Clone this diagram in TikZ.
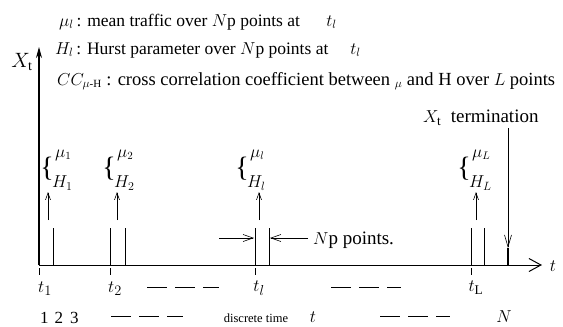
\documentclass[tikz,border=0pt]{standalone}
\usepackage{fontspec}
\setmainfont{Liberation Serif}
\usetikzlibrary{arrows.meta}
\begin{document}
\begin{tikzpicture}[x=1pt,y=-1pt,
  txt/.style={inner sep=0pt, anchor=west, font=\fontsize{17.5}{20}\selectfont},
  lbl/.style={inner sep=0pt, font=\fontsize{19}{22}\selectfont},
  sml/.style={inner sep=0pt, font=\fontsize{12.5}{14}\selectfont},
  brc/.style={inner sep=0pt, font=\fontsize{28}{30}\selectfont},
  grp/.style={inner sep=0pt, anchor=west, font=\fontsize{18}{20}\selectfont},
  bar/.style={line width=1pt},
  tick/.style={line width=0.6pt},
  uparr/.style={line width=0.6pt, -{Straight Barb[length=7pt,width=5pt]}},
  nparr/.style={line width=0.6pt, -{Straight Barb[length=10pt,width=7pt]}},
  dsh/.style={line width=0.6pt, dash pattern=on 20pt off 8pt}]
\useasboundingbox (0,0) rectangle (563,327);
% axes
\coordinate (O) at (39,265);
\coordinate (Ytop) at (39,47);
\coordinate (Xend) at (542,265);
\draw[line width=1.3pt, -{Stealth[length=11pt,width=6pt]}] (O) -- (Ytop);
\draw[line width=1pt, -{Straight Barb[length=12pt,width=13pt]}] (O) -- (Xend);
\node[lbl, font=\fontsize{20}{22}\selectfont] (xt) at (22,62) {$X_{\mathrm{t}}$};
\node[lbl] (tax) at (553,266) {$t$};
% header
\node[txt] (h1) at (59,22) {$\mu_l$\,: mean traffic over $N$p points at \quad\ $t_l$};
\node[txt] (h2) at (55,50) {$H_l$\,: Hurst parameter over $N$p points at \quad $t_l$};
\node[txt, font=\fontsize{18.5}{20}\selectfont] (h3) at (57,81) {$CC_{\mu\mbox{\fontsize{11}{12}\selectfont -H}}$ : cross correlation coefficient between $_\mu$ and H over $L$ points};
% termination
\node[txt, font=\fontsize{19}{22}\selectfont] (term) at (423,118) {$X_{\mathrm{t}}$\ \ termination};
\coordinate (ttop) at (508,128);
\coordinate (tbot) at (508,248);
\coordinate (tax0) at (508,265);
\draw[line width=0.6pt, -{Straight Barb[length=12pt,width=7pt]}] (ttop) -- (tbot);
\draw[line width=2.2pt] (tbot) -- (tax0);
% bars
\foreach \x [count=\i] in {53,110,125,255,269,471,484} {
  \coordinate (bt\i) at (\x,228);
  \coordinate (bb\i) at (\x,265);
  \draw[bar] (bb\i) -- (bt\i);
}
% ticks and t labels
\foreach \x/\n in {39/1,110/2,255/3,471/4} {
  \coordinate (ka\n) at (\x,268);
  \coordinate (kb\n) at (\x,275);
  \draw[tick] (ka\n) -- (kb\n);
}
\node[lbl] (t1) at (45,289) {$t_1$};
\node[lbl] (t2) at (115,289) {$t_2$};
\node[lbl] (tl) at (259,288) {$t_l$};
\node[lbl] (tL) at (476,288) {$t_{\mathrm{L}}$};
\coordinate (d1a) at (147,287); \coordinate (d1b) at (219,287);
\coordinate (d2a) at (331,287); \coordinate (d2b) at (401,287);
\draw[dsh] (d1a) -- (d1b);
\draw[dsh] (d2a) -- (d2b);
% bottom row
\node[lbl, anchor=west, font=\fontsize{17}{20}\selectfont] (n123) at (40,318) {1\hspace{6pt}2\hspace{7pt}3};
\coordinate (d3a) at (111,316); \coordinate (d3b) at (183,316);
\coordinate (d4a) at (380,316); \coordinate (d4b) at (450,316);
\draw[dsh] (d3a) -- (d3b);
\draw[dsh] (d4a) -- (d4b);
\node[sml] (dt) at (256,318) {discrete time};
\node[lbl] (tt) at (313,317) {$t$};
\node[lbl] (NN) at (504,317) {$N$};
% groups
\foreach \bx/\n/\s in {47/1/1, 109/2/2, 242/3/l, 464/4/L} {
  \node[brc] (br\n) at (\bx,169) {\{};
  \node[grp, font=\fontsize{16}{18}\selectfont] (mu\n) at (\bx+8,155) {$\mu_{\s}$};
  \node[grp] (H\n) at (\bx+5,183) {$H_{\s}$};
}
\foreach \x/\n in {48/1,117/2,259/3,476/4} {
  \coordinate (ua\n) at (\x,220);
  \coordinate (ub\n) at (\x,192);
  \draw[uparr] (ua\n) -- (ub\n);
}
% Np points
\coordinate (npa) at (219,238); \coordinate (npb) at (254,238);
\coordinate (npc) at (308,238); \coordinate (npd) at (270,238);
\draw[nparr] (npa) -- (npb);
\draw[nparr] (npc) -- (npd);
\node[txt, font=\fontsize{19}{22}\selectfont] (np) at (313,240) {$N$p points.};
\end{tikzpicture}
\end{document}
